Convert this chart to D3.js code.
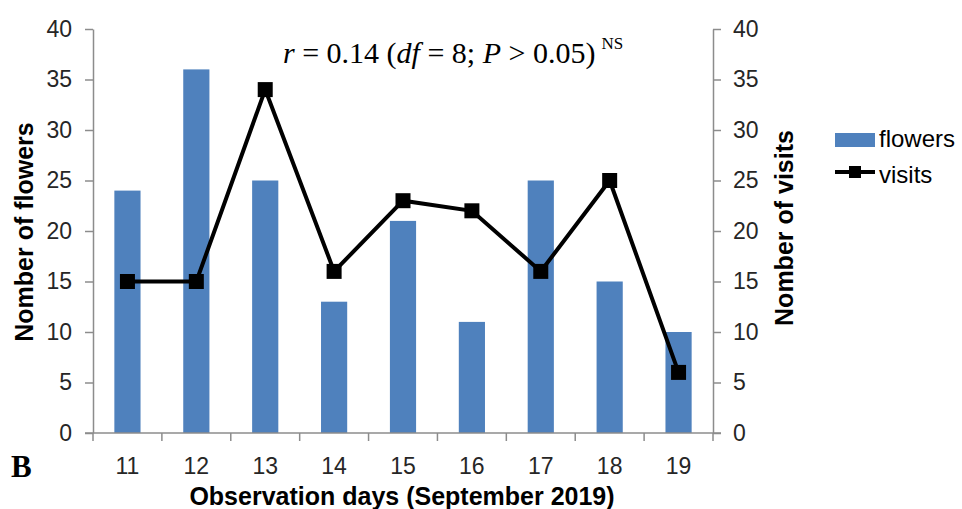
<!DOCTYPE html>
<html>
<head>
<meta charset="utf-8">
<script src="https://cdn.jsdelivr.net/npm/d3@7"></script>
<style>
  body { margin: 0; background: #fff; }
</style>
</head>
<body>
<div id="chart"></div>
<script>
// flowers vs visits per observation day
const days = ["11", "12", "13", "14", "15", "16", "17", "18", "19"];
const flowers = [24, 36, 25, 13, 21, 11, 25, 15, 10];
const visits = [15, 15, 34, 16, 23, 22, 16, 25, 6];
const yTicks = [0, 5, 10, 15, 20, 25, 30, 35, 40];

const width = 962, height = 509;
const plot = { left: 93, right: 713, top: 29, bottom: 433 };

const svg = d3.select("#chart").append("svg")
  .attr("width", width)
  .attr("height", height);

const x = d3.scaleBand().domain(days).range([plot.left, plot.right]).paddingInner(0).paddingOuter(0);
const y = d3.scaleLinear().domain([0, 40]).range([plot.bottom, plot.top]);
const y2 = d3.scaleLinear().domain([0, 40]).range([plot.bottom, plot.top]);

const sans = "Liberation Sans, Arial, sans-serif";
const serif = "Liberation Serif, Times New Roman, serif";
const axisColor = "#8c8c8c";
const textColor = "#262626";

// bars
svg.selectAll(".bar")
  .data(flowers)
  .enter().append("rect")
  .attr("class", "bar")
  .attr("x", (d, i) => x(days[i]) + x.bandwidth() * 0.31)
  .attr("width", x.bandwidth() * 0.38)
  .attr("y", d => y(d))
  .attr("height", d => y(0) - y(d))
  .attr("fill", "#4f81bd");

// axes
const styleAxis = g => {
  g.selectAll(".domain").attr("stroke", axisColor).attr("stroke-width", 1.5);
  g.selectAll(".tick line").attr("stroke", axisColor).attr("stroke-width", 1.5);
  g.selectAll(".tick text")
    .attr("fill", textColor)
    .style("font-family", sans)
    .style("font-size", "23px");
};

svg.append("g")
  .attr("transform", `translate(${plot.left},0)`)
  .call(d3.axisLeft(y).tickValues(yTicks).tickSize(8).tickPadding(13).tickSizeOuter(0))
  .call(styleAxis);

svg.append("g")
  .attr("transform", `translate(${plot.right},0)`)
  .call(d3.axisRight(y2).tickValues(yTicks).tickSize(8).tickPadding(12).tickSizeOuter(0))
  .call(styleAxis);

// x axis with ticks at category boundaries
const xg = svg.append("g").attr("transform", `translate(0,${plot.bottom})`);
xg.append("line")
  .attr("x1", plot.left - 8).attr("x2", plot.right + 8)
  .attr("y1", 0).attr("y2", 0)
  .attr("stroke", axisColor).attr("stroke-width", 1.5);
const edges = days.map(d => x(d)).concat([x(days[days.length - 1]) + x.bandwidth()]);
xg.selectAll(".xtick")
  .data(edges)
  .enter().append("line")
  .attr("x1", d => d).attr("x2", d => d)
  .attr("y1", 0).attr("y2", 8)
  .attr("stroke", axisColor).attr("stroke-width", 1.5);
xg.selectAll(".xlabel")
  .data(days)
  .enter().append("text")
  .attr("x", d => x(d) + x.bandwidth() / 2)
  .attr("y", 41)
  .attr("text-anchor", "middle")
  .attr("fill", textColor)
  .style("font-family", sans)
  .style("font-size", "23px")
  .text(d => d);

// visits line
const line = d3.line()
  .x((d, i) => x(days[i]) + x.bandwidth() / 2)
  .y(d => y2(d));

svg.append("path")
  .datum(visits)
  .attr("d", line)
  .attr("fill", "none")
  .attr("stroke", "#000")
  .attr("stroke-width", 4);

svg.selectAll(".marker")
  .data(visits)
  .enter().append("rect")
  .attr("x", (d, i) => x(days[i]) + x.bandwidth() / 2 - 7.5)
  .attr("y", d => y2(d) - 7.5)
  .attr("width", 15)
  .attr("height", 15)
  .attr("fill", "#000");

// axis titles
svg.append("text")
  .attr("transform", "translate(33,232) rotate(-90)")
  .attr("text-anchor", "middle")
  .style("font-family", sans)
  .style("font-size", "25px")
  .style("font-weight", "bold")
  .text("Nomber of flowers");

svg.append("text")
  .attr("transform", "translate(793,228) rotate(-90)")
  .attr("text-anchor", "middle")
  .style("font-family", sans)
  .style("font-size", "25px")
  .style("font-weight", "bold")
  .text("Nomber of visits");

svg.append("text")
  .attr("x", 402)
  .attr("y", 505)
  .attr("text-anchor", "middle")
  .style("font-family", sans)
  .style("font-size", "25px")
  .style("font-weight", "bold")
  .text("Observation days (September 2019)");

svg.append("text")
  .attr("x", 11)
  .attr("y", 477)
  .style("font-family", serif)
  .style("font-size", "31px")
  .style("font-weight", "bold")
  .text("B");

// annotation
const ann = svg.append("text")
  .attr("x", 283)
  .attr("y", 63)
  .style("font-family", serif)
  .style("font-size", "30px");
ann.append("tspan").style("font-style", "italic").text("r");
ann.append("tspan").text(" = 0.14 (");
ann.append("tspan").style("font-style", "italic").text("df");
ann.append("tspan").text(" = 8; ");
ann.append("tspan").style("font-style", "italic").text("P");
ann.append("tspan").text(" > 0.05)");
ann.append("tspan").attr("dx", 6).attr("dy", -14).style("font-size", "17px").text("NS");

// legend
const legend = svg.append("g").attr("transform", "translate(835,140)");
legend.append("rect")
  .attr("x", 0).attr("y", -7).attr("width", 40).attr("height", 14)
  .attr("fill", "#4f81bd");
legend.append("text")
  .attr("x", 44).attr("y", 7)
  .style("font-family", sans).style("font-size", "24px")
  .text("flowers");
legend.append("line")
  .attr("x1", 0).attr("x2", 40).attr("y1", 32).attr("y2", 32)
  .attr("stroke", "#000").attr("stroke-width", 4);
legend.append("rect")
  .attr("x", 14).attr("y", 26).attr("width", 12).attr("height", 12)
  .attr("fill", "#000");
legend.append("text")
  .attr("x", 44).attr("y", 43)
  .style("font-family", sans).style("font-size", "24px")
  .text("visits");
</script>
</body>
</html>
